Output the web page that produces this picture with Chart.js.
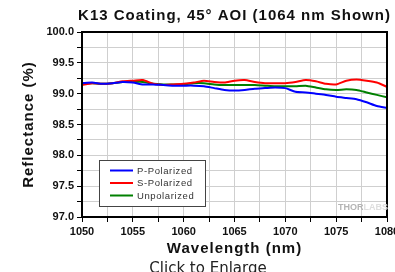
<!DOCTYPE html>
<html>
<head>
<meta charset="utf-8">
<script src="https://cdn.jsdelivr.net/npm/chart.js@4"></script>
<style>
	html, body { margin: 0; padding: 0; background: #fff; overflow: hidden; }
	#wrap { width: 395px; height: 272px; overflow: hidden; }
</style>
</head>
<body>
<div id="wrap"><canvas id="myChart" width="410" height="272"></canvas></div>
<script>
// wavelength (nm)
var wavelength = [1050, 1051, 1052, 1053, 1054, 1055, 1056, 1057, 1058, 1059, 1060,
	1061, 1062, 1063, 1064, 1065, 1066, 1067, 1068, 1069, 1070,
	1071, 1072, 1073, 1074, 1075, 1076, 1077, 1078, 1079, 1080];

// reflectance (%)
var pPolarized = [99.17, 99.18, 99.16, 99.17, 99.19, 99.18, 99.15, 99.15, 99.14, 99.13, 99.13,
	99.13, 99.12, 99.09, 99.06, 99.05, 99.06, 99.08, 99.09, 99.10, 99.09,
	99.03, 99.02, 99.00, 98.98, 98.95, 98.93, 98.91, 98.86, 98.80, 98.77];
var sPolarized = [99.14, 99.17, 99.16, 99.17, 99.20, 99.21, 99.22, 99.16, 99.14, 99.15, 99.16,
	99.18, 99.21, 99.19, 99.18, 99.21, 99.22, 99.19, 99.17, 99.17, 99.17,
	99.19, 99.22, 99.20, 99.16, 99.15, 99.21, 99.23, 99.21, 99.18, 99.11];
var unpolarized = [99.17, 99.17, 99.16, 99.17, 99.19, 99.19, 99.19, 99.16, 99.15, 99.15, 99.15,
	99.17, 99.17, 99.15, 99.14, 99.14, 99.14, 99.14, 99.13, 99.12, 99.12,
	99.12, 99.13, 99.10, 99.07, 99.06, 99.07, 99.06, 99.02, 98.98, 98.94];

var seriesNames = ['P-Polarized', 'S-Polarized', 'Unpolarized'];
var seriesColors = ['#0000ff', '#ff0000', '#008000'];

function toPoints(values) {
	return values.map(function(v, i) { return { x: wavelength[i], y: v }; });
}

// draws titles, frame, legend and watermark
var decorations = {
	id: 'decorations',
	afterDraw: function(chart) {
		var ctx = chart.ctx;
		var a = chart.chartArea;
		var mid = (a.left + a.right) / 2;
		ctx.save();

		// frame
		ctx.strokeStyle = '#000';
		ctx.lineWidth = 2;
		ctx.strokeRect(a.left, a.top, a.right - a.left, a.bottom - a.top);

		// main title
		ctx.fillStyle = '#111';
		ctx.letterSpacing = '1px';
		ctx.font = 'bold 15px "Liberation Sans", Arial, sans-serif';
		ctx.textAlign = 'center';
		ctx.textBaseline = 'middle';
		ctx.fillText('K13 Coating, 45° AOI (1064 nm Shown)', mid, 16);

		// axis titles
		ctx.fillText('Wavelength (nm)', mid, 249);
		ctx.save();
		ctx.translate(29, (a.top + a.bottom) / 2);
		ctx.rotate(-Math.PI / 2);
		ctx.fillText('Reflectance (%)', 0, 0);
		ctx.restore();

		// footer
		ctx.letterSpacing = '0px';
		ctx.fillStyle = '#222';
		ctx.font = '15px "DejaVu Sans", sans-serif';
		ctx.textBaseline = 'alphabetic';
		ctx.fillText('Click to Enlarge', 208, 273);

		// legend
		var bx = 99, by = 160;
		ctx.fillStyle = '#fff';
		ctx.fillRect(bx, by, 106, 46);
		ctx.strokeStyle = '#444';
		ctx.lineWidth = 1;
		ctx.strokeRect(bx + 0.5, by + 0.5, 106, 46);
		ctx.font = '9.5px "Liberation Sans", Arial, sans-serif';
		ctx.letterSpacing = '0.6px';
		ctx.textAlign = 'left';
		ctx.textBaseline = 'middle';
		chart.data.datasets.forEach(function(ds, i) {
			var y = by + 10.5 + i * 12.5;
			ctx.strokeStyle = ds.borderColor;
			ctx.lineWidth = 2;
			ctx.beginPath();
			ctx.moveTo(bx + 11, y);
			ctx.lineTo(bx + 34, y);
			ctx.stroke();
			ctx.fillStyle = '#333';
			ctx.fillText(ds.label, bx + 38, y + 0.5);
		});

		// watermark
		ctx.letterSpacing = '0px';
		ctx.font = 'bold 9px "Liberation Sans", Arial, sans-serif';
		ctx.fillStyle = '#b4b4b4';
		ctx.fillText('THOR', 338, 208);
		var w = ctx.measureText('THOR').width;
		ctx.fillStyle = '#dedede';
		ctx.fillText('LABS', 338 + w, 208);

		ctx.restore();
	}
};

var ctx = document.getElementById('myChart').getContext('2d');
var myChart = new Chart(ctx, {
	type: 'line',
	data: {
		datasets: [0, 1, 2].map(function(i) {
			return {
				label: seriesNames[i],
				data: toPoints([pPolarized, sPolarized, unpolarized][i]),
				borderColor: seriesColors[i],
				backgroundColor: seriesColors[i],
				borderWidth: 2,
				pointRadius: 0,
				tension: 0.2,
				fill: false
			};
		})
	},
	options: {
		responsive: false,
		animation: false,
		devicePixelRatio: 1,
		layout: { padding: { top: 32, right: 23, left: 0, bottom: 0 } },
		plugins: {
			legend: { display: false },
			title: { display: false },
			tooltip: { enabled: false }
		},
		scales: {
			x: {
				type: 'linear',
				min: 1050,
				max: 1080,
				afterFit: function(scale) { scale.height = 55; },
				grid: { color: '#cfcfcf', lineWidth: 1, tickColor: '#000', tickLength: 5 },
				border: { display: false },
				ticks: {
					stepSize: 2.5,
					autoSkip: false,
					maxRotation: 0,
					padding: 3,
					color: '#111',
					font: { family: '"Liberation Sans", Arial, sans-serif', size: 11, weight: 'bold' },
					callback: function(v) { return v % 5 === 0 ? String(v) : ''; }
				}
			},
			y: {
				min: 97,
				max: 100,
				afterFit: function(scale) { scale.width = 82; },
				grid: { color: '#cfcfcf', lineWidth: 1, tickColor: '#000', tickLength: 5 },
				border: { display: false },
				ticks: {
					stepSize: 0.25,
					autoSkip: false,
					padding: 3,
					color: '#111',
					font: { family: '"Liberation Sans", Arial, sans-serif', size: 11, weight: 'bold' },
					callback: function(v) {
						return Math.abs(v * 2 - Math.round(v * 2)) < 1e-6 ? v.toFixed(1) : '';
					}
				}
			}
		}
	},
	plugins: [decorations]
});
</script>
</body>
</html>
